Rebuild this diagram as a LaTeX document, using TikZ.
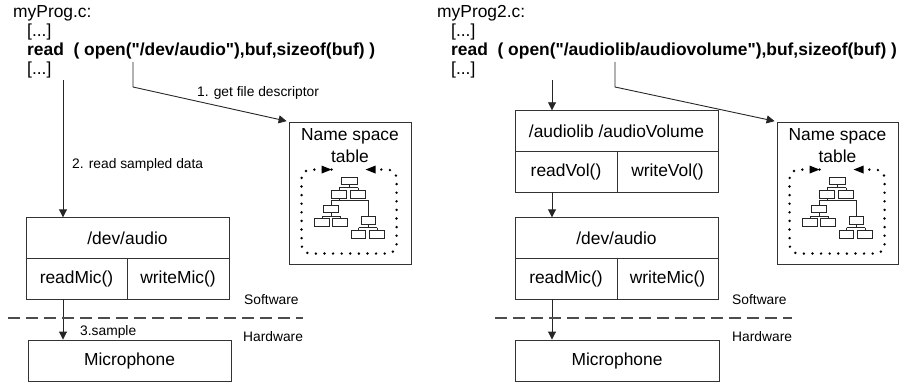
\documentclass[tikz,border=0pt]{standalone}
\usepackage{fontspec}
\setmainfont{Liberation Sans}[Ligatures=TeXOff]
\usetikzlibrary{arrows.meta,calc}
\begin{document}
\begin{tikzpicture}[x=1pt,y=-1pt,
  big/.style={font=\fontsize{17.4}{20}\selectfont, inner sep=0pt},
  small/.style={font=\fontsize{13.8}{16}\selectfont, inner sep=0pt},
  code/.style={big, anchor=base west},
  ln/.style={draw=black!85, line width=0.9pt},
  arr/.style={ln, -{Triangle[length=8pt,width=8pt]}},
  box/.style={big, draw=black!80, line width=0.9pt, minimum height=40.5pt, inner sep=0pt},
  sep/.style={draw=black!70, line width=1.2pt, dash pattern=on 12pt off 6pt},
  dotloop/.style={draw=black, line width=2.7pt, line cap=round, dash pattern=on 0pt off 8.6pt, rounded corners=9pt},
  leaf/.style={draw=black!85, line width=0.7pt},
  nstree/.pic={
    \draw[dotloop] (43,48) -- (13,48) -- (13,132) -- (108,132) -- (108,48) -- (77,48);
    \fill (43,48) -- (33,44) -- (33,52) -- cycle;
    \fill (77,48) -- (87,44) -- (87,52) -- cycle;
    % rectangles
    \draw[leaf] (53,56) rectangle (69,63);
    \draw[leaf] (43,69) rectangle (58,77);
    \draw[leaf] (62,69) rectangle (77,77);
    \draw[leaf] (35,84) rectangle (50,91);
    \draw[leaf] (73,95) rectangle (87,103);
    \draw[leaf] (26,97) rectangle (41,105);
    \draw[leaf] (44,97) rectangle (59,105);
    \draw[leaf] (63,109) rectangle (77,117);
    \draw[leaf] (81,109) rectangle (96,117);
    % links
    \draw[leaf] (61,63) -- (61,66) (50.5,66) -- (69.5,66) (50.5,66) -- (50.5,69) (69.5,66) -- (69.5,69);
    \draw[leaf] (50.5,77) -- (50.5,79) (42.5,79) -- (80,79) (42.5,79) -- (42.5,84) (80,79) -- (80,95);
    \draw[leaf] (42.5,91) -- (42.5,94.5) (33.5,94.5) -- (51.5,94.5) (33.5,94.5) -- (33.5,97) (51.5,94.5) -- (51.5,97);
    \draw[leaf] (80,103) -- (80,106) (70,106) -- (88.5,106) (70,106) -- (70,109) (88.5,106) -- (88.5,109);
  }
]
\useasboundingbox (0,0) rectangle (907,382);

% ---------------- left program ----------------
\node[code] (pA) at (13,18) {myProg.c:};
\node[code] (eA1) at (27,37) {[...]};
\node[code] (rA) at (27,56) {\bfseries read\ \ ( open("/dev/audio"),buf,sizeof(buf) )};
\node[code] (eA2) at (27,75) {[...]};

\node[box, minimum width=203pt] (devA) at (127.5,238) {/dev/audio};
\node[box, minimum width=101pt, minimum height=41pt] (rmA) at (76.5,278.5) {readMic()};
\node[box, minimum width=102pt, minimum height=41pt] (wmA) at (178,278.5) {writeMic()};
\node[box, minimum width=203pt, minimum height=41pt] (micA) at (129.5,360.5) {Microphone};

\node[draw=black!80, line width=0.9pt, minimum width=122pt, minimum height=142pt, inner sep=0pt] (nsA) at (350,193) {};
\node[big, anchor=base] (nsAt1) at (350,141) {Name space};
\node[big, anchor=base] (nsAt2) at (350,163) {table};
\pic at (nsA.north west) {nstree};

\coordinate (srcA) at (63,80);
\draw[arr] (srcA) -- (srcA |- devA.north);
\draw[arr] (srcA |- rmA.south) -- (srcA |- micA.north);

\coordinate (fdA) at (133,62);
\coordinate (fdAk) at (133,87);
\draw[arr, shorten >=2pt] (fdA) -- (fdAk) -- (nsA.north west);

\node[small, anchor=base west] (l1A) at (197,97) {1. get file descriptor};
\node[small, anchor=west] (l2A) at (72,165) {2. read sampled data};
\node[small, anchor=west] (l3A) at (80,332) {3.sample};
\node[small, anchor=west] (swA) at (244,300) {Software};
\node[small, anchor=west] (hwA) at (243,337) {Hardware};

\coordinate (dA1) at (8,318);
\coordinate (dA2) at (303,318);
\draw[sep] (dA1) -- (dA2);

% ---------------- right program ----------------
\node[code] (pB) at (437,18) {myProg2.c:};
\node[code] (eB1) at (451,37) {[...]};
\node[code] (rB) at (451,56) {\bfseries read\ \ ( open("/audiolib/audiovolume"),buf,sizeof(buf) )};
\node[code] (eB2) at (451,75) {[...]};

\node[box, minimum width=203pt] (libB) at (616.5,131) {/audiolib /audioVolume};
\node[box, minimum width=102pt, minimum height=41pt] (rvB) at (566,171.5) {readVol()};
\node[box, minimum width=101pt, minimum height=41pt] (wvB) at (667.5,171.5) {writeVol()};
\node[box, minimum width=203pt] (devB) at (616.5,238) {/dev/audio};
\node[box, minimum width=102pt, minimum height=41pt] (rmB) at (566,278.5) {readMic()};
\node[box, minimum width=101pt, minimum height=41pt] (wmB) at (667.5,278.5) {writeMic()};
\node[box, minimum width=204pt, minimum height=41pt] (micB) at (617,360.5) {Microphone};

\node[draw=black!80, line width=0.9pt, minimum width=121pt, minimum height=142pt, inner sep=0pt] (nsB) at (837.5,193) {};
\node[big, anchor=base] (nsBt1) at (837.5,141) {Name space};
\node[big, anchor=base] (nsBt2) at (837.5,163) {table};
\pic at (nsB.north west) {nstree};

\coordinate (srcB) at (552,80);
\draw[arr] (srcB) -- (srcB |- libB.north);
\draw[arr] (srcB |- rvB.south) -- (srcB |- devB.north);
\draw[arr] (srcB |- rmB.south) -- (srcB |- micB.north);

\coordinate (fdB) at (615,62);
\coordinate (fdBk) at (615,87);
\draw[arr, shorten >=2pt] (fdB) -- (fdBk) -- (nsB.north west);

\node[small, anchor=west] (swB) at (732,300) {Software};
\node[small, anchor=west] (hwB) at (732,337) {Hardware};

\coordinate (dB1) at (495,318);
\coordinate (dB2) at (792,318);
\draw[sep] (dB1) -- (dB2);
\end{tikzpicture}
\end{document}
